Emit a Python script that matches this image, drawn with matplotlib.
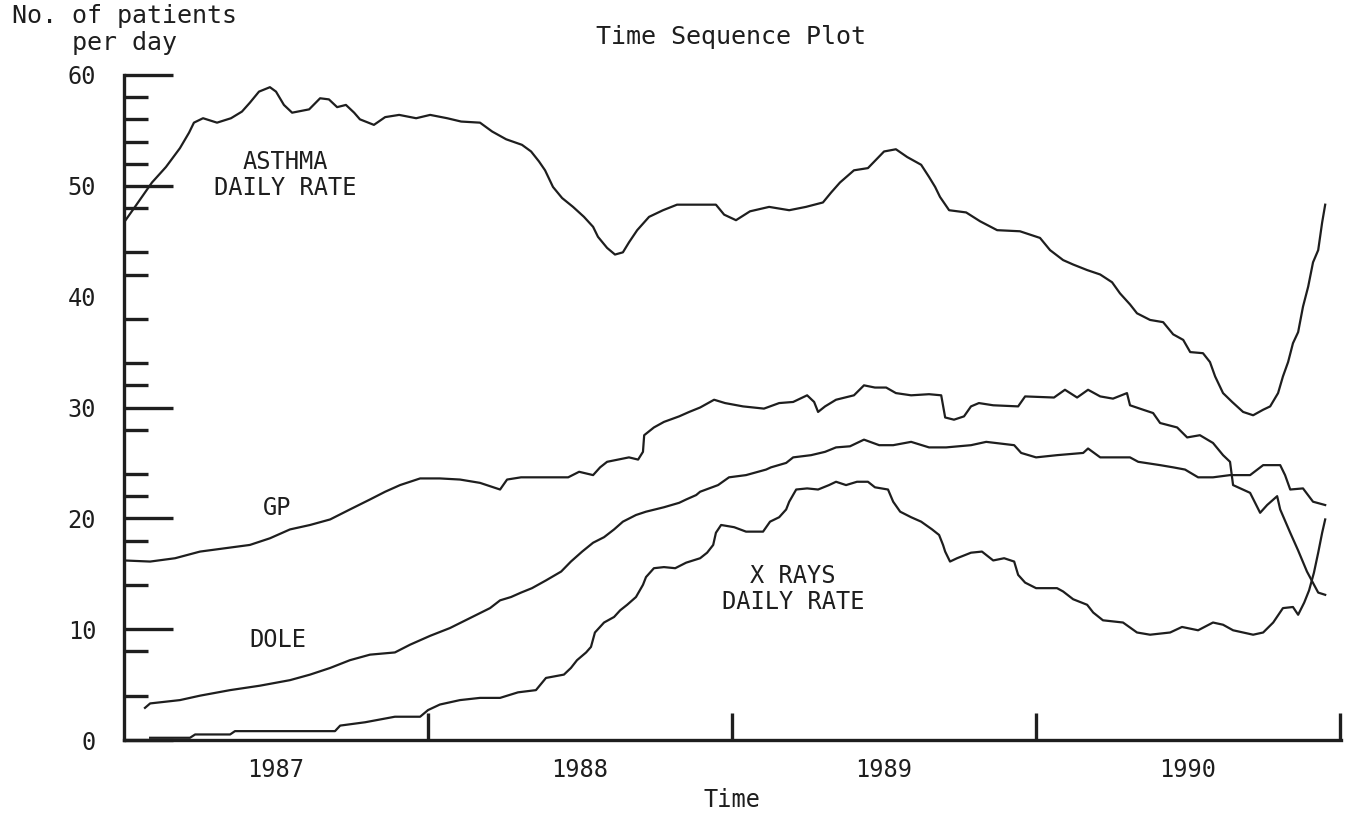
import numpy as np
import matplotlib.pyplot as plt

# time is given as years since the start of 1987
start_year = 1987

asthma_t = [0.000, 0.036, 0.092, 0.138, 0.184, 0.214, 0.230, 0.260, 0.306, 0.352, 0.388, 0.414, 0.444,
            0.480, 0.500, 0.526, 0.553, 0.609, 0.645, 0.674, 0.701, 0.730, 0.757, 0.776, 0.822, 0.859,
            0.905, 0.961, 1.007, 1.063, 1.109, 1.171, 1.211, 1.257, 1.309, 1.339, 1.365, 1.385, 1.411,
            1.441, 1.477, 1.513, 1.543, 1.559, 1.589, 1.615, 1.641, 1.661, 1.688, 1.727, 1.773, 1.819,
            1.875, 1.947, 1.974, 2.013, 2.059, 2.122, 2.188, 2.243, 2.299, 2.326, 2.355, 2.401, 2.447,
            2.500, 2.539, 2.576, 2.622, 2.648, 2.668, 2.684, 2.714, 2.770, 2.816, 2.872, 2.947, 3.013,
            3.046, 3.089, 3.122, 3.168, 3.211, 3.250, 3.276, 3.309, 3.332, 3.375, 3.418, 3.451, 3.484,
            3.507, 3.549, 3.572, 3.589, 3.615, 3.645, 3.681, 3.714, 3.747, 3.770, 3.796, 3.812, 3.829,
            3.845, 3.862, 3.878, 3.895, 3.911, 3.928, 3.941, 3.951]
asthma = [46.7, 48.1, 50.3, 51.7, 53.4, 54.8, 55.7, 56.1, 55.7, 56.1, 56.7, 57.5, 58.5,
          58.9, 58.5, 57.3, 56.6, 56.9, 57.9, 57.8, 57.1, 57.3, 56.6, 56.0, 55.5, 56.2,
          56.4, 56.1, 56.4, 56.1, 55.8, 55.7, 54.9, 54.2, 53.7, 53.1, 52.2, 51.4, 49.9,
          48.9, 48.1, 47.2, 46.3, 45.4, 44.4, 43.8, 44.0, 44.9, 46.0, 47.2, 47.8, 48.3,
          48.3, 48.3, 47.4, 46.9, 47.7, 48.1, 47.8, 48.1, 48.5, 49.4, 50.3, 51.4, 51.6,
          53.1, 53.3, 52.6, 51.9, 50.8, 49.9, 49.0, 47.8, 47.6, 46.8, 46.0, 45.9, 45.3,
          44.2, 43.3, 42.9, 42.4, 42.0, 41.3, 40.3, 39.3, 38.5, 37.9, 37.7, 36.6, 36.1,
          35.0, 34.9, 34.1, 32.8, 31.3, 30.5, 29.6, 29.3, 29.8, 30.1, 31.3, 32.8, 34.1,
          35.8, 36.8, 39.1, 40.9, 43.1, 44.2, 46.7, 48.3]

gp_t = [0.000, 0.086, 0.168, 0.250, 0.332, 0.414, 0.480, 0.546, 0.612, 0.678, 0.743, 0.809, 0.859,
        0.908, 0.974, 1.039, 1.105, 1.171, 1.237, 1.260, 1.306, 1.378, 1.461, 1.497, 1.543, 1.566,
        1.589, 1.661, 1.691, 1.707, 1.711, 1.743, 1.776, 1.826, 1.859, 1.895, 1.941, 1.977, 2.036,
        2.105, 2.155, 2.201, 2.247, 2.270, 2.283, 2.306, 2.342, 2.401, 2.434, 2.470, 2.507, 2.539,
        2.589, 2.648, 2.688, 2.701, 2.730, 2.763, 2.786, 2.812, 2.859, 2.941, 2.964, 3.059, 3.095,
        3.135, 3.171, 3.211, 3.253, 3.299, 3.309, 3.352, 3.385, 3.408, 3.464, 3.497, 3.539, 3.582,
        3.615, 3.638, 3.648, 3.704, 3.737, 3.760, 3.793, 3.803, 3.836, 3.862, 3.891, 3.928, 3.951]
gp = [16.2, 16.1, 16.4, 17.0, 17.3, 17.6, 18.2, 19.0, 19.4, 19.9, 20.8, 21.7, 22.4,
      23.0, 23.6, 23.6, 23.5, 23.2, 22.6, 23.5, 23.7, 23.7, 23.7, 24.2, 23.9, 24.6,
      25.1, 25.5, 25.3, 26.0, 27.5, 28.2, 28.7, 29.2, 29.6, 30.0, 30.7, 30.4, 30.1,
      29.9, 30.4, 30.5, 31.1, 30.5, 29.6, 30.1, 30.7, 31.1, 32.0, 31.8, 31.8, 31.3,
      31.1, 31.2, 31.1, 29.1, 28.9, 29.2, 30.1, 30.4, 30.2, 30.1, 31.0, 30.9, 31.6,
      30.9, 31.6, 31.0, 30.8, 31.3, 30.2, 29.8, 29.5, 28.6, 28.2, 27.3, 27.5, 26.8,
      25.7, 25.1, 23.0, 22.3, 20.5, 21.2, 22.0, 20.8, 18.7, 17.1, 15.2, 13.3, 13.1]

dole_t = [0.069, 0.086, 0.184, 0.250, 0.349, 0.447, 0.546, 0.612, 0.678, 0.743, 0.809, 0.891, 0.941,
          1.007, 1.072, 1.138, 1.204, 1.237, 1.273, 1.306, 1.342, 1.388, 1.438, 1.470, 1.507, 1.543,
          1.579, 1.612, 1.641, 1.684, 1.717, 1.776, 1.826, 1.849, 1.882, 1.895, 1.954, 1.990, 2.046,
          2.112, 2.128, 2.178, 2.201, 2.260, 2.306, 2.342, 2.388, 2.434, 2.484, 2.530, 2.589, 2.648,
          2.704, 2.786, 2.836, 2.928, 2.951, 3.000, 3.069, 3.155, 3.171, 3.211, 3.309, 3.336, 3.408,
          3.451, 3.490, 3.533, 3.582, 3.638, 3.704, 3.747, 3.803, 3.819, 3.836, 3.878, 3.911, 3.951]
dole = [2.9, 3.3, 3.6, 4.0, 4.5, 4.9, 5.4, 5.9, 6.5, 7.2, 7.7, 7.9, 8.6,
        9.4, 10.1, 11.0, 11.9, 12.6, 12.9, 13.3, 13.7, 14.4, 15.2, 16.1, 17.0, 17.8,
        18.3, 19.0, 19.7, 20.3, 20.6, 21.0, 21.4, 21.7, 22.1, 22.4, 23.0, 23.7, 23.9,
        24.4, 24.6, 25.0, 25.5, 25.7, 26.0, 26.4, 26.5, 27.1, 26.6, 26.6, 26.9, 26.4,
        26.4, 26.6, 26.9, 26.6, 25.9, 25.5, 25.7, 25.9, 26.3, 25.5, 25.5, 25.1, 24.8,
        24.6, 24.4, 23.7, 23.7, 23.9, 23.9, 24.8, 24.8, 23.9, 22.6, 22.7, 21.5, 21.2]

xray_t = [0.086, 0.217, 0.234, 0.349, 0.365, 0.694, 0.711, 0.793, 0.891, 0.974, 1.000, 1.039, 1.105,
          1.171, 1.237, 1.296, 1.355, 1.388, 1.447, 1.470, 1.490, 1.520, 1.536, 1.549, 1.579, 1.612,
          1.632, 1.655, 1.684, 1.707, 1.717, 1.743, 1.776, 1.813, 1.849, 1.895, 1.918, 1.938, 1.947,
          1.964, 2.007, 2.046, 2.102, 2.125, 2.155, 2.178, 2.188, 2.211, 2.247, 2.283, 2.319, 2.342,
          2.375, 2.411, 2.447, 2.470, 2.513, 2.530, 2.553, 2.589, 2.622, 2.658, 2.681, 2.694, 2.701,
          2.717, 2.740, 2.786, 2.822, 2.859, 2.895, 2.928, 2.941, 2.964, 3.000, 3.069, 3.089, 3.122,
          3.168, 3.188, 3.220, 3.286, 3.332, 3.375, 3.441, 3.480, 3.533, 3.582, 3.615, 3.648, 3.681,
          3.714, 3.747, 3.780, 3.812, 3.845, 3.862, 3.882, 3.898, 3.914, 3.928, 3.941, 3.951]
xray = [0.2, 0.2, 0.5, 0.5, 0.8, 0.8, 1.3, 1.6, 2.1, 2.1, 2.7, 3.2, 3.6,
        3.8, 3.8, 4.3, 4.5, 5.6, 5.9, 6.5, 7.2, 7.9, 8.4, 9.7, 10.6, 11.1,
        11.7, 12.2, 12.9, 14.0, 14.7, 15.5, 15.6, 15.5, 16.0, 16.4, 16.9, 17.6, 18.7,
        19.4, 19.2, 18.8, 18.8, 19.7, 20.1, 20.8, 21.5, 22.6, 22.7, 22.6, 23.0, 23.3,
        23.0, 23.3, 23.3, 22.8, 22.6, 21.5, 20.6, 20.1, 19.7, 19.0, 18.5, 17.6, 17.0,
        16.1, 16.4, 16.9, 17.0, 16.2, 16.4, 16.1, 14.9, 14.2, 13.7, 13.7, 13.4, 12.7,
        12.2, 11.5, 10.8, 10.6, 9.7, 9.5, 9.7, 10.2, 9.9, 10.6, 10.4, 9.9, 9.7,
        9.5, 9.7, 10.6, 11.9, 12.0, 11.3, 12.4, 13.5, 15.1, 16.9, 18.7, 19.9]

y_major = [0, 10, 20, 30, 40, 50, 60]
y_minor = [4, 8, 14, 18, 22, 24, 28, 32, 34, 38, 42, 44, 48, 52, 54, 56, 58]
x_major = [1988, 1989, 1990, 1991]
year_labels = ['1987', '1988', '1989', '1990']

ink = '#1e1e1e'
font = 'DejaVu Sans Mono'
plt.rcParams['font.family'] = font

fig = plt.figure(figsize=(13.47, 8.18), dpi=100)
ax = fig.add_axes([124 / 1347, 78 / 818, (1341 - 124) / 1347, 665 / 818])

for t, v in [(asthma_t, asthma), (gp_t, gp), (dole_t, dole), (xray_t, xray)]:
    ax.plot(start_year + np.array(t), v, color=ink, lw=1.6)

ax.set_xlim(1987, 1991.003)
ax.set_ylim(0, 60)
for s in ['top', 'right']:
    ax.spines[s].set_visible(False)
for s in ['left', 'bottom']:
    ax.spines[s].set_linewidth(2.4)
    ax.spines[s].set_color(ink)

ax.set_yticks(y_major)
ax.set_yticklabels([str(v) for v in y_major])
ax.set_yticks(y_minor, minor=True)
ax.tick_params(axis='y', which='major', direction='in', length=35, width=2.4, color=ink,
               pad=20, labelsize=17, labelcolor=ink)
ax.tick_params(axis='y', which='minor', direction='in', length=17, width=2.4, color=ink)
ax.yaxis.get_major_ticks()[4].tick1line.set_visible(False)

ax.set_xticks(x_major)
ax.set_xticklabels([])
ax.set_xticks([y + 0.5 for y in range(1987, 1991)], minor=True)
ax.set_xticklabels(year_labels, minor=True)
ax.tick_params(axis='x', which='major', direction='in', length=19.5, width=2.4, color=ink)
ax.tick_params(axis='x', which='minor', length=0, pad=13, labelsize=17, labelcolor=ink)

ax.set_xlabel('Time', fontsize=17, color=ink, labelpad=4)
fig.text(731 / 1347, 1 - 37 / 818, 'Time Sequence Plot', ha='center', va='center',
         fontsize=18, color=ink)
fig.text(12 / 1347, 1 - 16 / 818, 'No. of patients', ha='left', va='center', fontsize=18, color=ink)
fig.text(72 / 1347, 1 - 43 / 818, 'per day', ha='left', va='center', fontsize=18, color=ink)

ax.text(1987.53, 51.0, 'ASTHMA\nDAILY RATE', ha='center', va='center', fontsize=17,
        color=ink, linespacing=1.1)
ax.text(1987.505, 20.9, 'GP', ha='center', va='center', fontsize=17, color=ink)
ax.text(1987.505, 9.0, 'DOLE', ha='center', va='center', fontsize=17, color=ink)
ax.text(1989.2, 13.6, 'X RAYS\nDAILY RATE', ha='center', va='center', fontsize=17,
        color=ink, linespacing=1.1)

fig.savefig('out.png', dpi=100)
